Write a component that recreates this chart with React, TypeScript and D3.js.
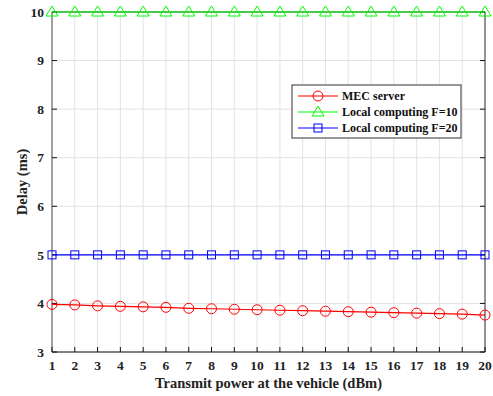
import * as d3 from "d3";

const POWER = d3.range(1, 21);
const MEC_DELAY = [3.98, 3.97, 3.95, 3.94, 3.93, 3.92, 3.9, 3.89, 3.88, 3.87, 3.86, 3.85, 3.84, 3.83, 3.82, 3.81, 3.8, 3.79, 3.78, 3.76];
const LOCAL_F10 = POWER.map(() => 10);
const LOCAL_F20 = POWER.map(() => 5);
const Y_TICKS = [3, 4, 5, 6, 7, 8, 9, 10];

const FONT = "'Liberation Serif','Times New Roman',serif";
const M = { left: 52, right: 8, top: 12, bottom: 44 };
const W = 493, H = 396;

export default function App() {
  const innerW = W - M.left - M.right;
  const innerH = H - M.top - M.bottom;
  const x = d3.scaleLinear().domain([1, 20]).range([0, innerW]);
  const y = d3.scaleLinear().domain([3, 10]).range([innerH, 0]);
  const line = d3.line<number>().x((_, i) => x(POWER[i])).y((d) => y(d));

  const series = [
    { key: "mec", label: "MEC server", data: MEC_DELAY, color: "#ff0000", marker: "circle" },
    { key: "f10", label: "Local computing F=10", data: LOCAL_F10, color: "#00ff00", marker: "tri" },
    { key: "f20", label: "Local computing F=20", data: LOCAL_F20, color: "#0000ff", marker: "square" },
  ];

  const marker = (kind: string, cx: number, cy: number, color: string, k: string) => {
    if (kind === "circle") return <circle key={k} cx={cx} cy={cy} r={5} fill="none" stroke={color} strokeWidth={1} />;
    if (kind === "tri")
      return <path key={k} d={`M${cx},${cy - 6}L${cx + 6},${cy + 4}L${cx - 6},${cy + 4}Z`} fill="none" stroke={color} strokeWidth={1} />;
    return <rect key={k} x={cx - 4} y={cy - 4} width={8} height={8} fill="none" stroke={color} strokeWidth={1} />;
  };

  return (
    <svg width={W} height={H} style={{ position: "absolute", left: 0, top: 0, background: "#fff" }}>
      <g transform={`translate(${M.left},${M.top})`}>
        {/* grid */}
        {POWER.map((p) => (
          <line key={`gx${p}`} x1={x(p)} x2={x(p)} y1={0} y2={innerH} stroke="#e3e3e3" strokeWidth={1} />
        ))}
        {Y_TICKS.map((t) => (
          <line key={`gy${t}`} x1={0} x2={innerW} y1={y(t)} y2={y(t)} stroke="#e3e3e3" strokeWidth={1} />
        ))}

        {/* axes box */}
        <line x1={0} x2={0} y1={0} y2={innerH} stroke="#a0a0a0" strokeWidth={2} />
        <line x1={innerW} x2={innerW} y1={0} y2={innerH} stroke="#333" strokeWidth={1} />
        <line x1={0} x2={innerW} y1={0} y2={0} stroke="#333" strokeWidth={1} />
        <line x1={0} x2={innerW} y1={innerH} y2={innerH} stroke="#111" strokeWidth={1} />

        {/* ticks */}
        {POWER.map((p) => (
          <g key={`tx${p}`}>
            <line x1={x(p)} x2={x(p)} y1={innerH} y2={innerH - 5} stroke="#111" />
            <text x={x(p)} y={innerH + 18} textAnchor="middle" fontSize={13.5} fontWeight="bold" fontFamily={FONT} fill="#222">
              {p}
            </text>
          </g>
        ))}
        {Y_TICKS.map((t) => (
          <g key={`ty${t}`}>
            <line x1={0} x2={5} y1={y(t)} y2={y(t)} stroke="#111" />
            <line x1={innerW} x2={innerW - 5} y1={y(t)} y2={y(t)} stroke="#111" />
            <text x={-8} y={y(t)} dy="0.35em" textAnchor="end" fontSize={13.5} fontWeight="bold" fontFamily={FONT} fill="#222">
              {t}
            </text>
          </g>
        ))}

        {/* series */}
        {series.map((s) => (
          <g key={s.key}>
            <path d={line(s.data) ?? ""} fill="none" stroke={s.color} strokeWidth={1.2} />
            {s.data.map((v, i) => marker(s.marker, x(POWER[i]), y(v), s.color, `${s.key}${i}`))}
          </g>
        ))}

        {/* labels */}
        <text x={innerW / 2} y={innerH + 36} textAnchor="middle" fontSize={14.5} fontWeight="bold" fontFamily={FONT} fill="#222">
          Transmit power at the vehicle (dBm)
        </text>
        <text transform={`translate(${-25},${innerH / 2}) rotate(-90)`} textAnchor="middle" fontSize={14.5} fontWeight="bold" fontFamily={FONT} fill="#222">
          Delay (ms)
        </text>
      </g>

      {/* legend */}
      <g transform="translate(292,85)">
        <rect x={0} y={0} width={169} height={53} fill="#fff" stroke="#333" strokeWidth={1} />
        {series.map((s, i) => {
          const ly = 11 + i * 16;
          return (
            <g key={`lg${s.key}`}>
              <line x1={6} x2={46} y1={ly} y2={ly} stroke={s.color} strokeWidth={1.2} />
              {marker(s.marker, 26, ly, s.color, `lm${s.key}`)}
              <text x={50} y={ly} dy="0.35em" fontSize={12} fontWeight="bold" fontFamily={FONT} fill="#111">
                {s.label}
              </text>
            </g>
          );
        })}
      </g>
    </svg>
  );
}
